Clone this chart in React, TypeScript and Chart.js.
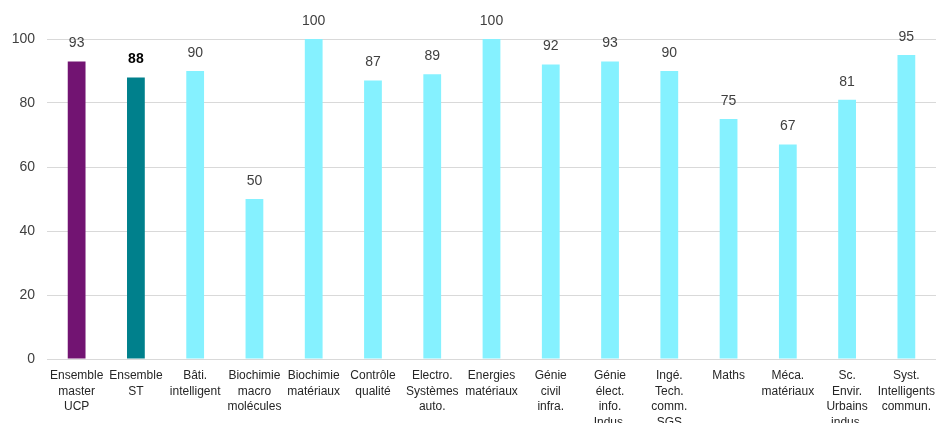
import React, { useEffect, useRef } from "react";
import { Chart, registerables } from "chart.js";

Chart.register(...registerables);

const categories: string[][] = [
  ["Ensemble", "master", "UCP"],
  ["Ensemble", "ST"],
  ["Bâti.", "intelligent"],
  ["Biochimie", "macro", "molécules"],
  ["Biochimie", "matériaux"],
  ["Contrôle", "qualité"],
  ["Electro.", "Systèmes", "auto."],
  ["Energies", "matériaux"],
  ["Génie", "civil", "infra."],
  ["Génie", "élect.", "info.", "Indus."],
  ["Ingé.", "Tech.", "comm.", "SGS"],
  ["Maths"],
  ["Méca.", "matériaux"],
  ["Sc.", "Envir.", "Urbains", "indus."],
  ["Syst.", "Intelligents", "commun."],
];

const values: number[] = [93, 88, 90, 50, 100, 87, 89, 100, 92, 93, 90, 75, 67, 81, 95];

const barColors: string[] = [
  "#721472",
  "#00808C",
  ...Array(13).fill("#85F1FF"),
];

const yTicks: number[] = [0, 20, 40, 60, 80, 100];

const labelPlugin = {
  id: "valueLabels",
  afterDatasetsDraw(chart: any) {
    const ctx = chart.ctx;
    const meta = chart.getDatasetMeta(0);
    ctx.save();
    ctx.textAlign = "center";
    ctx.textBaseline = "middle";
    meta.data.forEach((bar: any, i: number) => {
      const bold = i === 1;
      ctx.font = `${bold ? "bold " : ""}14px "Liberation Sans", Arial, sans-serif`;
      ctx.fillStyle = bold ? "#000000" : "#404040";
      ctx.fillText(String(values[i]), bar.x, bar.y - 18);
    });
    ctx.restore();
  },
};

export default function App() {
  const ref = useRef<HTMLCanvasElement | null>(null);

  useEffect(() => {
    if (!ref.current) return;
    const chart = new Chart(ref.current, {
      type: "bar",
      data: {
        labels: categories,
        datasets: [
          {
            data: values,
            backgroundColor: barColors,
            barPercentage: 0.6,
            categoryPercentage: 0.5,
          },
        ],
      },
      options: {
        animation: false,
        responsive: false,
        maintainAspectRatio: false,
        layout: { padding: { top: 39, left: 0, right: 0, bottom: 0 } },
        plugins: {
          legend: { display: false },
          tooltip: { enabled: false },
        },
        scales: {
          x: {
            grid: { display: false, drawTicks: false },
            border: { display: true, color: "#d9d9d9" },
            ticks: {
              autoSkip: false,
              maxRotation: 0,
              minRotation: 0,
              padding: 9,
              color: "#262626",
              font: { family: '"Liberation Sans", Arial, sans-serif', size: 12, lineHeight: 1.3 },
            },
            afterFit: (scale: any) => {
              scale.height = 64;
              scale.paddingLeft = 0;
              scale.paddingRight = 0;
            },
          },
          y: {
            min: 0,
            max: 100,
            afterBuildTicks: (scale: any) => {
              scale.ticks = yTicks.map((v) => ({ value: v }));
            },
            grid: { color: "#d9d9d9", drawTicks: false },
            border: { display: false },
            ticks: {
              padding: 12,
              color: "#404040",
              font: { family: '"Liberation Sans", Arial, sans-serif', size: 14 },
            },
            afterFit: (scale: any) => {
              scale.width = 47;
            },
          },
        },
      },
      plugins: [labelPlugin],
    });
    return () => chart.destroy();
  }, []);

  return (
    <div style={{ position: "fixed", left: 0, top: 0, width: 936, height: 423, overflow: "hidden", background: "#fff" }}>
      <canvas ref={ref} width={936} height={423} style={{ width: 936, height: 423, display: "block" }} />
    </div>
  );
}
